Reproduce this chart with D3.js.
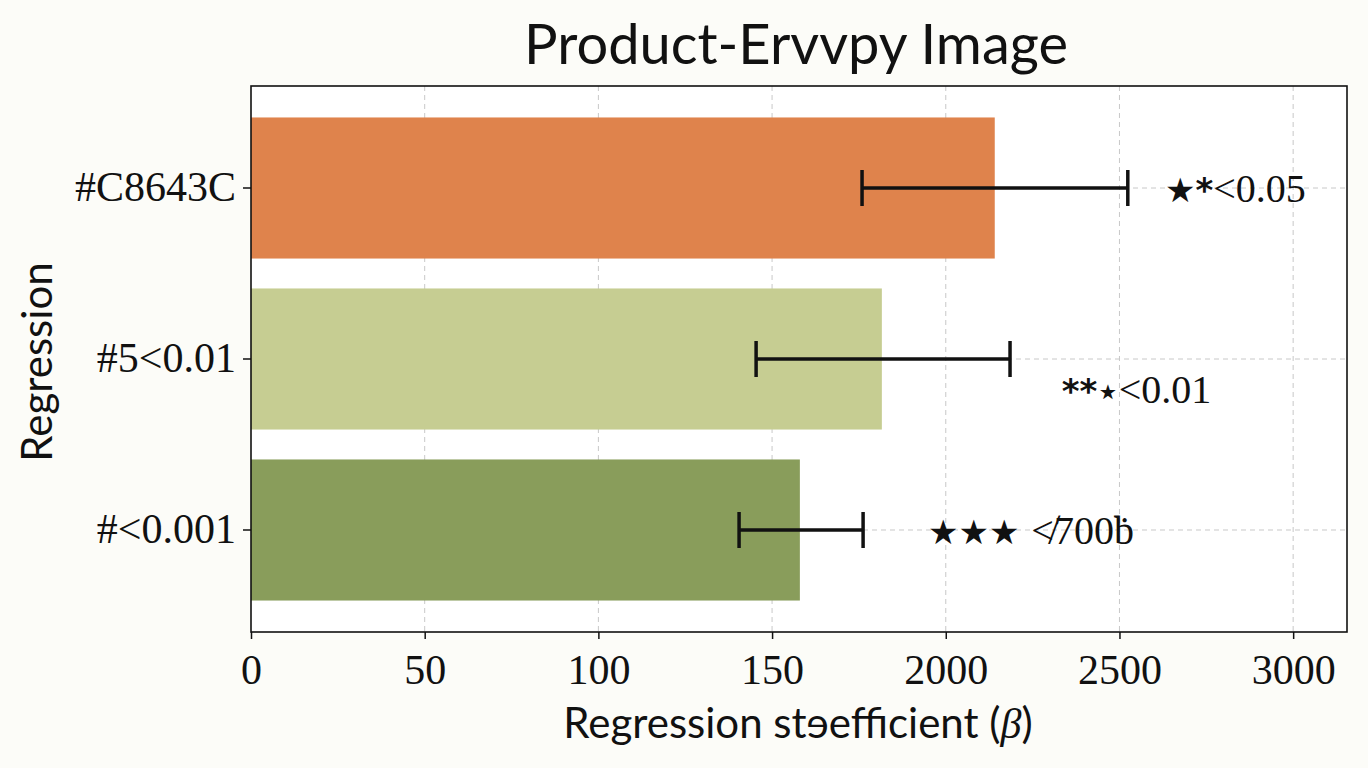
<!DOCTYPE html>
<html>
<head>
<meta charset="utf-8">
<title>Product-Ervvpy Image</title>
<script src="https://cdn.jsdelivr.net/npm/d3@7"></script>
<style>
body { margin: 0; background: #fcfcf8; }
.grid line { stroke: #c8c8c8; stroke-width: 1; stroke-dasharray: 5,4; }
.anno { font-family: "Liberation Serif", serif; font-size: 40px; fill: #111; }
.title { font-family: Lato, "Open Sans", sans-serif; font-size: 56px; fill: #111; }
.axis-title { font-family: Lato, "Open Sans", sans-serif; font-size: 42px; fill: #111; }
</style>
</head>
<body>
<script>
// data
var categories = ["#C8643C", "#5<0.01", "#<0.001"];
var coef = [2141, 1816, 1580];
var errLow = [1759, 1454, 1405];
var errHigh = [2524, 2185, 1762];
var barColors = ["#df834c", "#c6cd92", "#899d5b"];
var tickValues = [0, 500, 1000, 1500, 2000, 2500, 3000];
var tickLabels = ["0", "50", "100", "150", "2000", "2500", "3000"];
var annoStars = ["★*", "**⋆", "★★★ "];
var annoRest = ["<0.05", "<0.01", "≮700ḃ"];
var annoAt = [2631, 2334, 1949];

var width = 1368, height = 768;
var margin = {top: 86, right: 21, bottom: 136, left: 251};

var svg = d3.select("body").append("svg")
    .attr("width", width)
    .attr("height", height);

var x = d3.scaleLinear()
    .domain([0, 3155])
    .range([margin.left, width - margin.right]);

var y = d3.scaleBand()
    .domain(categories)
    .range([margin.top, height - margin.bottom])
    .paddingInner(0.175)
    .paddingOuter(0.184);

var mid = d => y(d) + y.bandwidth() / 2;

// plot background
svg.append("rect")
    .attr("x", margin.left).attr("y", margin.top)
    .attr("width", x.range()[1] - margin.left)
    .attr("height", y.range()[1] - margin.top)
    .attr("fill", "#fff");

// grid
var grid = svg.append("g").attr("class", "grid");
grid.selectAll(".vx").data(tickValues.slice(1)).enter().append("line")
    .attr("x1", d => x(d)).attr("x2", d => x(d))
    .attr("y1", margin.top).attr("y2", y.range()[1]);
grid.selectAll(".hy").data(categories).enter().append("line")
    .attr("x1", margin.left).attr("x2", x.range()[1])
    .attr("y1", mid).attr("y2", mid);

// bars
svg.selectAll(".bar").data(categories).enter().append("rect")
    .attr("class", "bar")
    .attr("x", x(0))
    .attr("y", d => y(d))
    .attr("width", (d, i) => x(coef[i]) - x(0))
    .attr("height", y.bandwidth())
    .attr("fill", (d, i) => barColors[i]);

// error bars
var eb = svg.selectAll(".err").data(categories).enter().append("g")
    .attr("class", "err")
    .attr("stroke", "#111")
    .attr("stroke-width", 3.5);
eb.append("line")
    .attr("x1", (d, i) => x(errLow[i])).attr("x2", (d, i) => x(errHigh[i]))
    .attr("y1", mid).attr("y2", mid);
eb.append("line")
    .attr("x1", (d, i) => x(errLow[i])).attr("x2", (d, i) => x(errLow[i]))
    .attr("y1", d => mid(d) - 18).attr("y2", d => mid(d) + 18);
eb.append("line")
    .attr("x1", (d, i) => x(errHigh[i])).attr("x2", (d, i) => x(errHigh[i]))
    .attr("y1", d => mid(d) - 18).attr("y2", d => mid(d) + 18);

// annotations (second one sits a bit lower)
var an = svg.selectAll(".anno").data(categories).enter().append("text")
    .attr("class", "anno")
    .attr("x", (d, i) => x(annoAt[i]))
    .attr("y", (d, i) => mid(d) + (i == 1 ? 30 : 0))
    .attr("dy", "0.35em");
an.append("tspan")
    .attr("font-family", "DejaVu Sans")
    .attr("font-weight", "bold")
    .attr("font-size", "34px")
    .text((d, i) => annoStars[i]);
an.append("tspan").text((d, i) => annoRest[i]);

// x axis
var xAxis = d3.axisBottom(x)
    .tickValues(tickValues)
    .tickFormat((d, i) => tickLabels[i])
    .tickSize(7)
    .tickSizeOuter(0);
var gx = svg.append("g")
    .attr("transform", "translate(0," + y.range()[1] + ")")
    .call(xAxis);
gx.select(".domain").remove();
gx.selectAll(".tick line").attr("stroke", "#111").attr("stroke-width", 1.5);
gx.selectAll(".tick text")
    .attr("dy", "1.0em")
    .style("font-family", "Liberation Serif")
    .style("font-size", "42px")
    .style("fill", "#111");

// y axis
var yAxis = d3.axisLeft(y).tickSize(8).tickPadding(7).tickSizeOuter(0);
var gy = svg.append("g")
    .attr("transform", "translate(" + margin.left + ",0)")
    .call(yAxis);
gy.select(".domain").remove();
gy.selectAll(".tick line").attr("stroke", "#111").attr("stroke-width", 1.5);
gy.selectAll(".tick text")
    .style("font-family", "Liberation Serif")
    .style("font-size", "42px")
    .style("fill", "#111");

// frame
svg.append("rect")
    .attr("x", margin.left).attr("y", margin.top)
    .attr("width", x.range()[1] - margin.left)
    .attr("height", y.range()[1] - margin.top)
    .attr("fill", "none")
    .attr("stroke", "#111")
    .attr("stroke-width", 1.6);

// titles
svg.append("text")
    .attr("class", "title")
    .attr("x", 796).attr("y", 64)
    .attr("text-anchor", "middle")
    .text("Product-Ervvpy Image");

var xt = svg.append("text")
    .attr("class", "axis-title")
    .attr("x", 798).attr("y", 738)
    .attr("text-anchor", "middle");
xt.append("tspan").text("Regression stɘefficient (");
xt.append("tspan").attr("font-family", "Liberation Serif").attr("font-style", "italic").text("β");
xt.append("tspan").text(")");

svg.append("text")
    .attr("class", "axis-title")
    .attr("transform", "translate(52,362) rotate(-90)")
    .attr("text-anchor", "middle")
    .text("Regression");
</script>
</body>
</html>
